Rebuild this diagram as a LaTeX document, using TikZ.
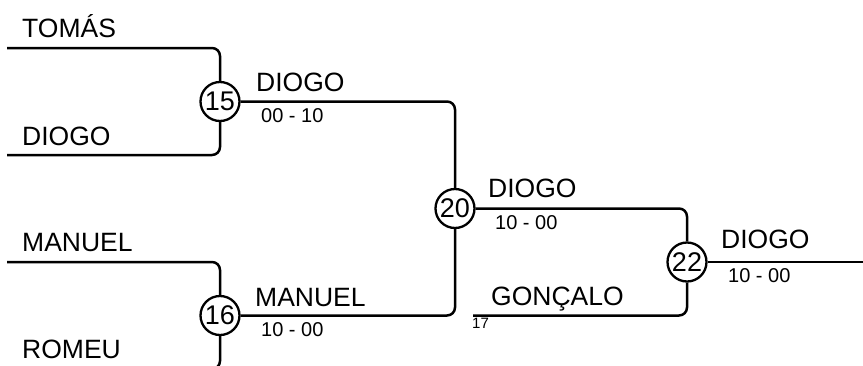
\documentclass[tikz,border=0pt]{standalone}
\usepackage{fontspec}
\setmainfont{Liberation Sans}
\begin{document}
\begin{tikzpicture}[x=1pt,y=-1pt,
  wire/.style={rounded corners=8pt, line width=2.5pt},
  match/.style={circle, draw, line width=2.3pt, minimum size=39pt, inner sep=0pt, font=\fontsize{27}{27}\selectfont},
  player/.style={anchor=base west, inner sep=0pt, font=\fontsize{26.5}{26.5}\selectfont},
  score/.style={anchor=base west, inner sep=0pt, font=\fontsize{20}{20}\selectfont},
  seed/.style={anchor=base west, inner sep=0pt, font=\fontsize{15}{15}\selectfont}]
\useasboundingbox (0,0) rectangle (863,365);
\clip (0,0) rectangle (863,365);
\coordinate (pT) at (7,48);
\coordinate (pD) at (7,155);
\coordinate (pM) at (7,262);
\coordinate (pR) at (7,369);
\coordinate (pG) at (473,315.5);
\coordinate (fin) at (870,262);
\node[match] (m15) at (220,101.5) {15};
\node[match] (m16) at (220,315.5) {16};
\node[match] (m20) at (455,208.5) {20};
\node[match] (m22) at (687,262) {22};
\draw[wire] (pT) -| (m15.north);
\draw[wire] (pD) -| (m15.south);
\draw[wire] (pM) -| (m16.north);
\draw[wire] (pR) -| (m16.south);
\draw[wire] (m15.east) -| (m20.north);
\draw[wire] (m16.east) -| (m20.south);
\draw[wire] (m20.east) -| (m22.north);
\draw[wire] (pG) -| (m22.south);
\draw[wire] (m22.east) -- (fin);
\node[player] (nT) at (22,37) {TOMÁS};
\node[player] (nD) at (22,145) {DIOGO};
\node[player] (nM) at (22,251.5) {MANUEL};
\node[player] (nR) at (22,358) {ROMEU};
\node[player] (w15) at (256,91.5) {DIOGO};
\node[score] (s15) at (261,122.5) {00 - 10};
\node[player] (w16) at (255,306) {MANUEL};
\node[score] (s16) at (261,336) {10 - 00};
\node[player] (w20) at (488,197) {DIOGO};
\node[score] (s20) at (495,229) {10 - 00};
\node[player] (nG) at (491,305) {GONÇALO};
\node[seed] (s17) at (472,328) {17};
\node[player] (w22) at (721,248.5) {DIOGO};
\node[score] (s22) at (728,282.5) {10 - 00};
\end{tikzpicture}
\end{document}
